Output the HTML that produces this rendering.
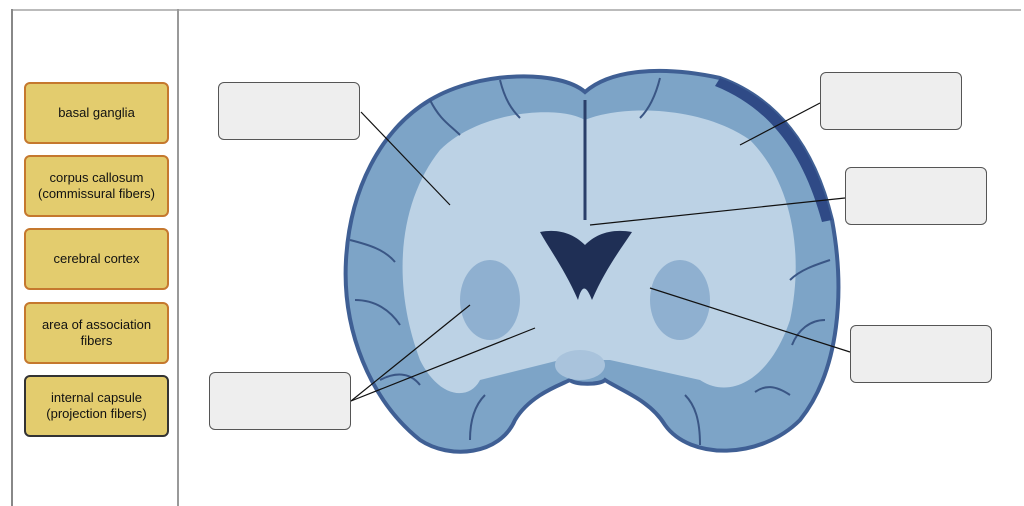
<!DOCTYPE html>
<html><head><style>
body{margin:0;width:1024px;height:506px;background:#fff;position:relative;overflow:hidden;font-family:"Liberation Sans",sans-serif}
.lb{position:absolute;left:24px;width:141px;height:58px;background:#e3cc6e;border:2px solid #c5782e;border-radius:6px;display:flex;align-items:center;justify-content:center;text-align:center;font-size:13px;color:#111;line-height:16px}
.tb{position:absolute;width:140px;height:56px;background:#eeeeee;border:1.5px solid #555;border-radius:6px}
</style></head><body>
<div style="position:absolute;left:11px;top:9px;width:1010px;height:2px;background:#bbb"></div>
<div style="position:absolute;left:11px;top:9px;width:2px;height:497px;background:#888"></div>
<div style="position:absolute;left:177px;top:9px;width:2px;height:497px;background:#999"></div>
<div class="lb" style="top:82px">basal ganglia</div>
<div class="lb" style="top:155px">corpus callosum<br>(commissural fibers)</div>
<div class="lb" style="top:228px">cerebral cortex</div>
<div class="lb" style="top:302px">area of association<br>fibers</div>
<div class="lb" style="top:375px;border-color:#333">internal capsule<br>(projection fibers)</div>
<svg width="1024" height="506" style="position:absolute;left:0;top:0">
<path d="M585,92 C560,70 480,70 430,100 C380,130 350,190 346,260 C342,330 370,400 420,440 C450,460 500,455 515,420 C530,395 560,385 570,380 C575,385 600,385 605,380 C620,390 650,400 665,425 C690,460 760,460 800,420 C840,370 845,290 832,220 C815,150 780,100 720,78 C660,65 610,70 585,92 Z" fill="#7da4c7" stroke="#3f5f94" stroke-width="4"/>
<path d="M720,78 C780,100 815,150 832,220 L822,222 C805,160 775,110 715,86 Z" fill="#2f4a86"/>
<path d="M585,120 C560,105 480,110 440,150 C400,200 390,280 420,360 C440,400 470,400 480,380 L560,360 L610,360 L700,380 C730,400 770,380 790,320 C805,250 790,180 750,140 C700,105 620,105 585,120 Z" fill="#bcd2e5"/>
<g fill="none" stroke="#3a5685" stroke-width="2">
<path d="M350,240 C370,245 385,250 395,262"/><path d="M355,300 C375,300 390,310 400,325"/><path d="M380,380 C395,372 410,372 420,385"/>
<path d="M430,100 C440,120 450,125 460,135"/><path d="M500,80 C505,100 512,110 520,118"/><path d="M660,78 C655,98 648,110 640,118"/>
<path d="M830,260 C815,265 800,270 790,280"/><path d="M825,320 C810,320 798,330 792,345"/><path d="M790,395 C775,385 765,385 755,392"/>
<path d="M470,440 C470,420 475,405 485,395"/><path d="M700,445 C700,420 695,405 685,395"/>
</g>
<path d="M585,100 L585,220" stroke="#2a3f6a" stroke-width="3"/>
<path d="M540,232 C560,228 575,235 585,245 C595,235 610,228 632,232 C620,250 605,270 592,300 C588,290 583,280 578,300 C565,270 550,250 540,232 Z" fill="#1f2f55"/>
<ellipse cx="490" cy="300" rx="30" ry="40" fill="#8fb0d0"/>
<ellipse cx="680" cy="300" rx="30" ry="40" fill="#8fb0d0"/>
<ellipse cx="580" cy="365" rx="25" ry="15" fill="#a9c3dc"/>
<g stroke="#111" stroke-width="1.2">
<line x1="361" y1="112" x2="450" y2="205"/>
<line x1="820" y1="103" x2="740" y2="145"/>
<line x1="845" y1="198" x2="590" y2="225"/>
<line x1="850" y1="352" x2="650" y2="288"/>
<line x1="351" y1="401" x2="470" y2="305"/>
<line x1="351" y1="401" x2="535" y2="328"/>
</g>
</svg>
<div class="tb" style="left:218px;top:82px"></div>
<div class="tb" style="left:820px;top:72px"></div>
<div class="tb" style="left:845px;top:167px"></div>
<div class="tb" style="left:850px;top:325px"></div>
<div class="tb" style="left:209px;top:372px"></div>
</body></html>
